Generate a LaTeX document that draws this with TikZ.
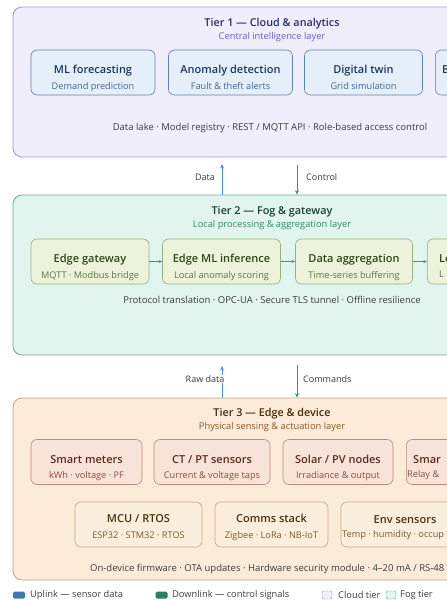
\documentclass[tikz,border=0pt]{standalone}
\usepackage{fontspec}
\setmainfont{Open Sans}[BoldFont={Open Sans Semibold}]
\usetikzlibrary{arrows.meta}

\definecolor{cloudfill}{HTML}{EFEEFA}
\definecolor{cloudline}{HTML}{9C97CC}
\definecolor{cloudhead}{HTML}{2B2C6C}
\definecolor{cloudsub}{HTML}{6A61B6}
\definecolor{cardbfill}{HTML}{E4EFFA}
\definecolor{cardbline}{HTML}{5E84AA}
\definecolor{cardbhead}{HTML}{1E3A5E}
\definecolor{cardbsub}{HTML}{3F6B95}
\definecolor{fogfill}{HTML}{E2F4EE}
\definecolor{fogline}{HTML}{62AE8F}
\definecolor{foghead}{HTML}{18402F}
\definecolor{fogsub}{HTML}{2E8B6B}
\definecolor{cardgfill}{HTML}{EDF3DA}
\definecolor{cardgline}{HTML}{93B47F}
\definecolor{cardghead}{HTML}{2C461D}
\definecolor{cardgsub}{HTML}{56793B}
\definecolor{edgefill}{HTML}{FBEBD8}
\definecolor{edgeline}{HTML}{C7A37C}
\definecolor{edgehead}{HTML}{4A2B10}
\definecolor{edgesub}{HTML}{8B5A28}
\definecolor{cardpfill}{HTML}{F8E3D9}
\definecolor{cardpline}{HTML}{B88D7A}
\definecolor{cardphead}{HTML}{5A2E1E}
\definecolor{cardpsub}{HTML}{8A5040}
\definecolor{cardofill}{HTML}{FCEEDC}
\definecolor{cardoline}{HTML}{C9A580}
\definecolor{cardohead}{HTML}{4A3012}
\definecolor{cardosub}{HTML}{7A5A30}
\definecolor{upblue}{HTML}{4A8ED3}
\definecolor{downgreen}{HTML}{2E9A70}
\definecolor{stepteal}{HTML}{4F8C8A}
\definecolor{notegray}{HTML}{3C3C3C}

% two-line card text, nudged a little below the card centre
\newcommand{\cardtxt}[4][-6.5pt]{\raisebox{#1}[\height][\depth]{\begin{tabular}{@{}c@{}}%
  \bfseries\fontsize{11}{12}\selectfont #2\\[3.5pt]%
  \fontsize{9.2}{11}\selectfont\color{#4}#3\end{tabular}}}
\newcommand{\tiertxt}[3]{\begin{tabular}{@{}c@{}}%
  \bfseries\fontsize{10.8}{12}\selectfont #1\\[0.5pt]%
  \fontsize{9.3}{11}\selectfont\color{#3}#2\end{tabular}}

\begin{document}
\begin{tikzpicture}[x=1pt,y=-1pt,
    tierbox/.style={draw, rounded corners=9pt, line width=0.8pt, inner sep=0pt},
    card/.style={draw, rounded corners=6pt, line width=0.6pt, inner sep=0pt, minimum height=45pt},
    cloudcard/.style={card, fill=cardbfill, draw=cardbline, text=cardbhead},
    fogcard/.style={card, fill=cardgfill, draw=cardgline, text=cardghead},
    senscard/.style={card, fill=cardpfill, draw=cardpline, text=cardphead},
    devcard/.style={card, fill=cardofill, draw=cardoline, text=cardohead},
    cut/.style={anchor=west, inner sep=0pt},
    note/.style={font=\fontsize{9.5}{11}\selectfont, text=notegray, inner sep=1pt},
    uplink/.style={draw=upblue, line width=1pt, -{Stealth[length=4.5pt,width=4pt]}},
    downlink/.style={draw=downgreen, line width=1pt, -{Stealth[length=4.5pt,width=4pt]}},
    stepto/.style={draw=stepteal, line width=0.7pt, -{Stealth[length=3.5pt,width=3pt]}},
    flowlabel/.style={font=\fontsize{9}{11}\selectfont, text=notegray, fill=white, inner sep=1pt},
    legtext/.style={font=\fontsize{9.3}{11}\selectfont, text=notegray, anchor=west, inner sep=0pt}]

\useasboundingbox (0,0) rectangle (447,600);
\clip (0,0) rectangle (447,600);

% tiers
\node[tierbox, fill=cloudfill, draw=cloudline, minimum width=518pt, minimum height=150pt] (t1) at (272,82) {};
\node[tierbox, fill=fogfill, draw=fogline, minimum width=518pt, minimum height=160pt] (t2) at (272,275) {};
\node[tierbox, fill=edgefill, draw=edgeline, minimum width=518pt, minimum height=182pt] (t3) at (272,489) {};

\node[text=cloudhead] (t1h) at (272,30.5) {\tiertxt{Tier 1 --- Cloud \& analytics}{Central intelligence layer}{cloudsub}};
\node[text=foghead] (t2h) at (272,218.5) {\tiertxt{Tier 2 --- Fog \& gateway}{Local processing \& aggregation layer}{fogsub}};
\node[text=edgehead] (t3h) at (272,420.5) {\tiertxt{Tier 3 --- Edge \& device}{Physical sensing \& actuation layer}{edgesub}};

% tier 1 cards
\node[cloudcard, minimum width=124pt] (ml) at (93,72.5) {\cardtxt{ML forecasting}{Demand prediction}{cardbsub}};
\node[cloudcard, minimum width=124pt] (anom) at (230.5,72.5) {\cardtxt{Anomaly detection}{Fault \& theft alerts}{cardbsub}};
\node[cloudcard, minimum width=118pt] (twin) at (363.5,72.5) {\cardtxt{Digital twin}{Grid simulation}{cardbsub}};
\node[cloudcard, minimum width=118pt, anchor=west] (bill) at (435,72.5) {};
\node[cut, text=cardbhead, font=\bfseries\fontsize{11}{12}\selectfont] at (442,70) {B};
\node[note] (t1n) at (270,128) {Data lake · Model registry · REST / MQTT API · Role-based access control};

% tier 2 cards
\node[fogcard, minimum width=118pt] (gw) at (90,261.5) {\cardtxt{Edge gateway}{MQTT · Modbus bridge}{cardgsub}};
\node[fogcard, minimum width=118pt] (inf) at (221.5,261.5) {\cardtxt{Edge ML inference}{Local anomaly scoring}{cardgsub}};
\node[fogcard, minimum width=117pt] (agg) at (354,261.5) {\cardtxt{Data aggregation}{Time-series buffering}{cardgsub}};
\node[fogcard, minimum width=117pt, anchor=west] (loc) at (427,261.5) {};
\node[cut, text=cardghead, font=\bfseries\fontsize{11}{12}\selectfont] at (439,259) {Lo};
\node[cut, text=cardgsub, font=\fontsize{9.2}{11}\selectfont] at (439,274) {L};
\draw[stepto] (gw) -- (inf);
\draw[stepto] (inf) -- (agg);
\draw[stepto] (agg) -- (loc);
\node[note] (t2n) at (272,300) {Protocol translation · OPC-UA · Secure TLS tunnel · Offline resilience};

% tier 3 cards
\node[senscard, minimum width=111pt] (meter) at (86.5,462) {\cardtxt{Smart meters}{kWh · voltage · PF}{cardpsub}};
\node[senscard, minimum width=116pt] (ctpt) at (212,462) {\cardtxt{CT / PT sensors}{Current \& voltage taps}{cardpsub}};
\node[senscard, minimum width=110pt] (solar) at (338,462) {\cardtxt{Solar / PV nodes}{Irradiance \& output}{cardpsub}};
\node[senscard, minimum width=110pt, anchor=west] (relay) at (406,462) {};
\node[cut, text=cardphead, font=\bfseries\fontsize{11}{12}\selectfont] at (413,459.5) {Smar};
\node[cut, text=cardpsub, font=\fontsize{9.2}{11}\selectfont] at (407,475) {Relay \&};

\node[devcard, minimum width=127pt] (mcu) at (138.5,524.5) {\cardtxt[-3.5pt]{MCU / RTOS}{ESP32 · STM32 · RTOS}{cardosub}};
\node[devcard, minimum width=113pt] (comms) at (271.5,524.5) {\cardtxt[-3.5pt]{Comms stack}{Zigbee · LoRa · NB-IoT}{cardosub}};
\node[devcard, minimum width=128pt] (env) at (405,524.5) {};
\node[text=cardohead, font=\bfseries\fontsize{11}{12}\selectfont, inner sep=0pt] at (405,520) {Env sensors};
\node[cut, text=cardosub, font=\fontsize{9.2}{11}\selectfont] at (342,535.5) {Temp · humidity · occup};
\node[note, anchor=west] (t3n) at (89,569) {On-device firmware · OTA updates · Hardware security module · 4–20 mA / RS-48};

% links between tiers
\coordinate (dataTop) at (222,164);
\coordinate (ctrlTop) at (297,165);
\draw[uplink] (dataTop |- t2.north) -- (dataTop);
\draw[downlink] (ctrlTop) -- (ctrlTop |- t2.north);
\node[flowlabel] (dataLbl) at (205,177) {Data};
\node[flowlabel, anchor=west] (ctrlLbl) at (305,177) {Control};

\coordinate (rawTop) at (222,366);
\coordinate (cmdTop) at (297,365);
\draw[uplink] (rawTop |- t3.north) -- (rawTop);
\draw[downlink] (cmdTop) -- (cmdTop |- t3.north);
\node[flowlabel] (rawLbl) at (205,379) {Raw data};
\node[flowlabel, anchor=west] (cmdLbl) at (302,379) {Commands};

% legend
\node[fill=upblue!85!black, rounded corners=1.5pt, minimum width=12pt, minimum height=7pt, inner sep=0pt] (lgUp) at (19,595) {};
\node[legtext] at (30,595) {Uplink — sensor data};
\node[fill=downgreen!85!black, rounded corners=1.5pt, minimum width=12pt, minimum height=7pt, inner sep=0pt] (lgDown) at (161.5,595) {};
\node[legtext] at (172,595) {Downlink — control signals};
\node[fill=cloudfill, draw=cloudline, rounded corners=1.5pt, minimum width=10pt, minimum height=8pt, inner sep=0pt] (lgCloud) at (327,595) {};
\node[legtext] at (338,595) {Cloud tier};
\node[fill=fogfill, draw=fogline, rounded corners=1.5pt, minimum width=10pt, minimum height=8pt, inner sep=0pt] (lgFog) at (391,595) {};
\node[legtext] at (400,595) {Fog tier};

\end{tikzpicture}
\end{document}
